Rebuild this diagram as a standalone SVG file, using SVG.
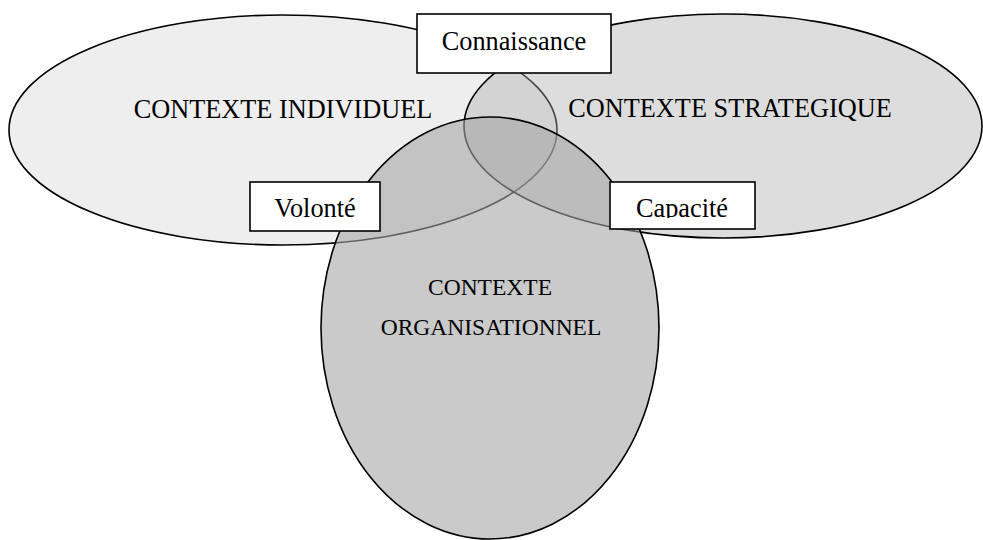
<svg xmlns="http://www.w3.org/2000/svg" width="983" height="540" viewBox="0 0 983 540">
<style>
.ell{stroke:#000;stroke-width:1.6}
.box{fill:#fff;stroke:#000;stroke-width:1.6}
.t{font-family:"Liberation Serif","Times New Roman",serif;font-size:26.3px;fill:#000}
.tb{font-family:"Liberation Serif","Times New Roman",serif;font-size:23.5px;fill:#000}
</style>
<defs>
<clipPath id="capClip"><rect x="610" y="182" width="145" height="36"/></clipPath>
</defs>
<rect width="983" height="540" fill="#fff"/>
<g id="ctx-individuel">
<ellipse class="ell" cx="283" cy="130" rx="274" ry="115" fill="#eeeeee"/>
<text class="t" x="283" y="118" text-anchor="middle">CONTEXTE INDIVIDUEL</text>
</g>
<g id="ctx-strategique">
<ellipse class="ell" cx="723" cy="126" rx="259" ry="112" fill="#acacac" fill-opacity="0.41" stroke-opacity="1"/>
<text class="t" x="730" y="117" text-anchor="middle">CONTEXTE STRATEGIQUE</text>
</g>
<g id="ctx-organisationnel">
<ellipse class="ell" cx="490" cy="328" rx="169" ry="211" fill="#a5a5a5" fill-opacity="0.59"/>
<text class="tb" x="490" y="295" text-anchor="middle">CONTEXTE</text>
<text class="tb" x="491" y="335" text-anchor="middle">ORGANISATIONNEL</text>
</g>
<g id="connectors"></g>
<g id="connaissance">
<rect class="box" x="417" y="14" width="194" height="59"/>
<text class="t" x="514" y="50" text-anchor="middle">Connaissance</text>
</g>
<g id="volonte">
<rect class="box" x="250" y="182" width="130" height="49"/>
<text class="t" x="315" y="217" text-anchor="middle">Volonté</text>
</g>
<g id="capacite">
<rect class="box" x="610" y="182" width="145" height="47"/>
<text class="t" x="682" y="217" text-anchor="middle" clip-path="url(#capClip)">Capacité</text>
</g>
</svg>
